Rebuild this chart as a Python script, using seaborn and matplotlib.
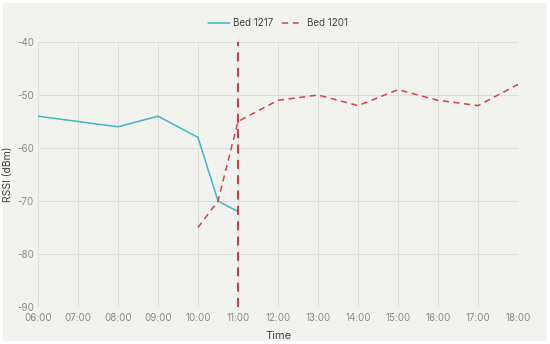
import numpy as np
import pandas as pd
import matplotlib
matplotlib.use("Agg")
import matplotlib.pyplot as plt
import seaborn as sns

# data (hours of day)
hours_1217 = [6, 8, 9, 10, 10.5, 11]
rssi_1217 = [-54, -56, -54, -58, -70, -72]
hours_1201 = [10, 10.5, 11, 12, 13, 14, 15, 16, 17, 18]
rssi_1201 = [-75, -70, -55, -51, -50, -52, -49, -51, -52, -48]
tick_hours = list(range(6, 19))
tick_labels = ["%02d:00" % h for h in tick_hours]
y_ticks = [-90, -80, -70, -60, -50, -40]
marker_hour = 11

bg = "#f2f2ee"
sns.set_theme(style="white")
plt.rcParams["font.family"] = ["Inter", "DejaVu Sans"]
plt.rcParams["axes.unicode_minus"] = False

df1 = pd.DataFrame({"hour": hours_1217, "rssi": rssi_1217})
df2 = pd.DataFrame({"hour": hours_1201, "rssi": rssi_1201})

fig = plt.figure(figsize=(5.5, 3.44), dpi=100, facecolor=bg)
fig.patch.set_edgecolor("white")
fig.patch.set_linewidth(3)
ax = fig.add_axes([38/550, 1 - 307/344, 480/550, 265/344])
ax.set_facecolor(bg)

sns.lineplot(data=df1, x="hour", y="rssi", ax=ax, color="#3fb8c6", lw=1.1, label="Bed 1217")
sns.lineplot(data=df2, x="hour", y="rssi", ax=ax, color="#d8414a", lw=1.1,
             linestyle=(0, (4, 3)), label="Bed 1201")
ax.axvline(marker_hour, color="#d8262f", lw=1.3, linestyle=(0, (5, 3.5)), zorder=3)

ax.set_xlim(6, 18)
ax.set_ylim(-90, -40)
ax.set_xticks(tick_hours)
ax.set_xticklabels(tick_labels)
ax.set_yticks(y_ticks)
ax.grid(True, color="#dfdfd9", lw=0.7)
ax.tick_params(axis="both", length=0, labelsize=7, labelcolor="#8a8a8a")
ax.tick_params(axis="x", pad=4)
ax.tick_params(axis="y", pad=3)
for s in ax.spines.values():
    s.set_visible(False)

ax.set_xlabel("Time", fontsize=8, color="#444444", labelpad=6)
ax.set_ylabel("RSSI (dBm)", fontsize=7.5, color="#444444", labelpad=3)

ax.legend(loc="lower center", bbox_to_anchor=(0.5, 1.02), ncol=2, frameon=False,
          fontsize=7, labelcolor="#444444", handlelength=2.2, columnspacing=0.8,
          handletextpad=0.4)

fig.savefig("out.png", dpi=100, facecolor=bg, edgecolor="white")
